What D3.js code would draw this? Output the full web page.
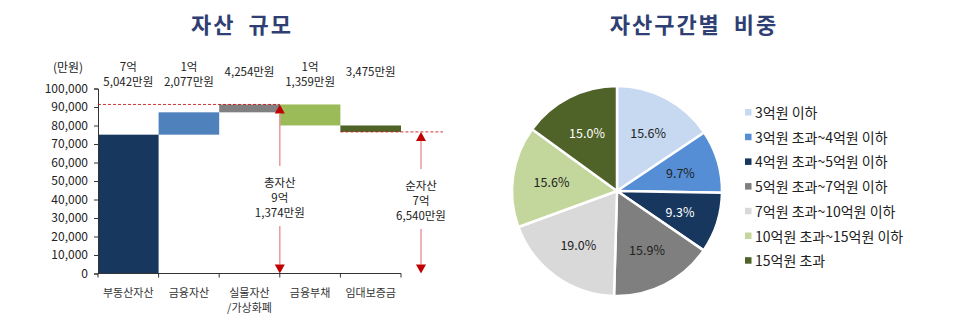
<!DOCTYPE html>
<html>
<head>
<meta charset="utf-8">
<script src="https://cdn.jsdelivr.net/npm/d3@7"></script>
<style>
  html, body { margin: 0; padding: 0; background: #fff; }
  svg { display: block; font-family: "Noto Sans CJK KR", "Noto Sans", sans-serif; }
</style>
</head>
<body>
<svg id="chart" width="971" height="333"></svg>
<script>
// Waterfall: household asset composition (unit: 만원)
const categories = ["부동산자산", "금융자산", "실물자산\n/가상화폐", "금융부채", "임대보증금"];
const changes = [75042, 12077, 4254, -11359, -3475];
const barColors = ["#17375E", "#4F81BD", "#808080", "#9BBB59", "#4F6228"];
const totalAssets = 91374;
const netAssets = 76540;
const yTicks = [0, 10000, 20000, 30000, 40000, 50000, 60000, 70000, 80000, 90000, 100000];

// Pie: share by asset bracket (%)
const brackets = ["3억원 이하", "3억원 초과~4억원 이하", "4억원 초과~5억원 이하", "5억원 초과~7억원 이하",
                  "7억원 초과~10억원 이하", "10억원 초과~15억원 이하", "15억원 초과"];
const shares = [15.6, 9.7, 9.3, 15.9, 19.0, 15.6, 15.0];
const pieColors = ["#C6D9F1", "#558ED5", "#17375E", "#7F7F7F", "#D9D9D9", "#C3D69B", "#4F6228"];
const pieLabelColors = ["#222", "#222", "#fff", "#222", "#222", "#222", "#fff"];

const svg = d3.select("#chart");
const titleColor = "#2F3F73";
const red = "#C00000";
const lineGap = 15;

// Korean amount format: 75042 -> ["7억", "5,042만원"]
function amountLines(v) {
  v = Math.abs(v);
  const eok = Math.floor(v / 10000), man = v % 10000;
  const manStr = d3.format(",")(man) + "만원";
  return eok > 0 ? [eok + "억", manStr] : [manStr];
}

function title(cx, text) {
  svg.append("text").attr("x", cx).attr("y", 33).attr("text-anchor", "middle")
    .attr("font-size", 22).attr("font-weight", "bold").attr("fill", titleColor)
    .attr("letter-spacing", 2).attr("word-spacing", 6).text(text);
}

// ---------- Waterfall ----------
title(242, "자산 규모");

const x = d3.scaleBand().domain(categories).range([98, 401]).padding(0);
const y = d3.scaleLinear().domain([0, 100000]).range([273.5, 88.5]);

let run = 0;
const steps = changes.map((v, i) => {
  const start = run; run += v;
  return { cat: categories[i], v, lo: Math.min(start, run), hi: Math.max(start, run) };
});

const g = svg.append("g");
g.selectAll("rect.bar").data(steps).join("rect").attr("class", "bar")
  .attr("x", d => x(d.cat)).attr("width", x.bandwidth())
  .attr("y", d => y(d.hi)).attr("height", d => y(d.lo) - y(d.hi))
  .attr("fill", (d, i) => barColors[i]);

// Y axis
const yAxis = g.append("g").attr("transform", "translate(98,0)")
  .call(d3.axisLeft(y).tickValues(yTicks).tickFormat(d3.format(",")).tickSize(4).tickPadding(6));
yAxis.select(".domain").attr("stroke", "#333");
yAxis.selectAll(".tick line").attr("stroke", "#333");
yAxis.selectAll(".tick text").attr("font-size", 12).attr("fill", "#222")
  .attr("font-family", "\"Noto Sans CJK KR\", sans-serif");

// X axis with ticks at category boundaries
const xAxisY = y(0);
g.append("line").attr("x1", 98).attr("x2", 401).attr("y1", xAxisY).attr("y2", xAxisY).attr("stroke", "#333");
const bounds = categories.map(c => x(c)).concat([x.range()[1]]);
g.selectAll("line.xt").data(bounds).join("line").attr("class", "xt")
  .attr("x1", d => d).attr("x2", d => d).attr("y1", xAxisY).attr("y2", xAxisY + 4).attr("stroke", "#333");
categories.forEach(c => {
  const lines = c.split("\n");
  const t = g.append("text").attr("text-anchor", "middle").attr("font-size", 11).attr("fill", "#333");
  lines.forEach((l, i) => t.append("tspan").attr("x", x(c) + x.bandwidth() / 2).attr("y", 297 + i * lineGap).text(l));
});

svg.append("text").attr("x", 68).attr("y", 72).attr("text-anchor", "middle")
  .attr("font-size", 12).attr("fill", "#222").text("(만원)");

// Amount labels above each bar
steps.forEach(d => {
  const lines = amountLines(d.v);
  const cx = x(d.cat) + x.bandwidth() / 2;
  const y0 = lines.length === 2 ? 71 : 76;
  const t = svg.append("text").attr("text-anchor", "middle").attr("font-size", 11.5).attr("fill", "#222");
  lines.forEach((l, i) => t.append("tspan").attr("x", cx).attr("y", y0 + i * lineGap).text(l));
});

// Dashed reference lines
const totalX = x(categories[3]);
const netX = x.range()[1] + 20;
g.append("line").attr("x1", 98).attr("x2", totalX).attr("y1", y(totalAssets)).attr("y2", y(totalAssets))
  .attr("stroke", red).attr("stroke-width", 0.8).attr("stroke-dasharray", "3,2");
g.append("line").attr("x1", x(categories[4])).attr("x2", netX + 22).attr("y1", y(netAssets)).attr("y2", y(netAssets))
  .attr("stroke", red).attr("stroke-width", 0.8).attr("stroke-dasharray", "3,2");

// Double arrow with a label between the level and zero
function arrowAnnot(cx, value, label, midY) {
  const topY = y(value), botY = y(0);
  const head = 9, hw = 5;
  const lineCol = "#E89A9E";
  const lines = [label].concat(amountLines(value));
  const firstY = midY - lineGap * (lines.length - 1) / 2;
  const lastY = firstY + lineGap * (lines.length - 1);
  g.append("path").attr("d", `M${cx},${topY} L${cx - hw},${topY + head} L${cx + hw},${topY + head} Z`).attr("fill", red);
  g.append("line").attr("x1", cx).attr("x2", cx).attr("y1", topY + head).attr("y2", firstY - 17)
    .attr("stroke", lineCol).attr("stroke-width", 1.5);
  g.append("line").attr("x1", cx).attr("x2", cx).attr("y1", lastY + 13).attr("y2", botY - head)
    .attr("stroke", lineCol).attr("stroke-width", 1.5);
  g.append("path").attr("d", `M${cx},${botY} L${cx - hw},${botY - head} L${cx + hw},${botY - head} Z`).attr("fill", red);
  const t = g.append("text").attr("text-anchor", "middle").attr("font-size", 11.5).attr("fill", "#222");
  lines.forEach((l, i) => t.append("tspan").attr("x", cx).attr("y", firstY + 4 + i * lineGap).text(l));
}
arrowAnnot(totalX, totalAssets, "총자산", 198);
arrowAnnot(netX, netAssets, "순자산", 201);

// ---------- Pie ----------
title(694, "자산구간별 비중");

const cx = 617, cy = 191, r = 105;
const pie = d3.pie().sort(null).value(d => d);
const arcs = pie(shares);
const arc = d3.arc().innerRadius(0).outerRadius(r);
const labelArc = d3.arc().innerRadius(r * 0.63).outerRadius(r * 0.63);
const pg = svg.append("g").attr("transform", `translate(${cx},${cy})`);
pg.selectAll("path").data(arcs).join("path")
  .attr("d", arc).attr("fill", (d, i) => pieColors[i])
  .attr("stroke", "#fff").attr("stroke-width", 2.5).attr("stroke-linejoin", "round");
pg.selectAll("text").data(arcs).join("text")
  .attr("transform", d => `translate(${labelArc.centroid(d)})`)
  .attr("text-anchor", "middle").attr("dominant-baseline", "central")
  .attr("font-size", 12.5).attr("fill", (d, i) => pieLabelColors[i])
  .text(d => d3.format(".1f")(d.data) + "%");

// Legend
const lg = svg.append("g");
brackets.forEach((b, i) => {
  const ly = 112 + i * 24.7;
  lg.append("rect").attr("x", 745).attr("y", ly - 3).attr("width", 6.5).attr("height", 6.5).attr("fill", pieColors[i]);
  lg.append("text").attr("x", 755).attr("y", ly).attr("dominant-baseline", "central")
    .attr("font-size", 14).attr("fill", "#222").text(b);
});
</script>
</body>
</html>
